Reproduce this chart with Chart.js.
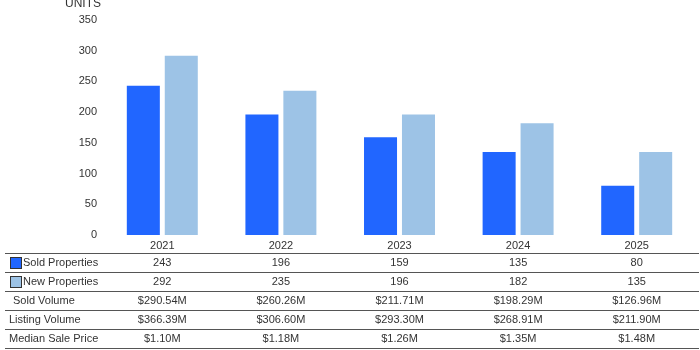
<!DOCTYPE html>
<html>
<head>
<meta charset="utf-8">
<script src="https://cdn.jsdelivr.net/npm/chart.js@4"></script>
<style>
html,body{margin:0;padding:0;background:#fff;}
#wrap{width:700px;height:350px;position:relative;}
</style>
</head>
<body>
<div id="wrap"><canvas id="c" width="700" height="350"></canvas></div>
<script>
const years = ["2021","2022","2023","2024","2025"];
const soldProperties = [243,196,159,135,80];
const newProperties = [292,235,196,182,135];
const soldVolume = ["$290.54M","$260.26M","$211.71M","$198.29M","$126.96M"];
const listingVolume = ["$366.39M","$306.60M","$293.30M","$268.91M","$211.90M"];
const medianSalePrice = ["$1.10M","$1.18M","$1.26M","$1.35M","$1.48M"];
const yTicks = [0,50,100,150,200,250,300,350];

const SOLD_COLOR = "#2166ff";
const NEW_COLOR = "#9dc3e6";
const TEXT = "#333333";
const FONT = "Liberation Sans, Arial, sans-serif";

const tableRows = [
  {label:"Sold Properties", values: soldProperties.map(String), swatch: SOLD_COLOR, lx: 23},
  {label:"New Properties", values: newProperties.map(String), swatch: NEW_COLOR, lx: 23},
  {label:"Sold Volume", values: soldVolume, lx: 13},
  {label:"Listing Volume", values: listingVolume, lx: 9},
  {label:"Median Sale Price", values: medianSalePrice, lx: 9}
];

const tablePlugin = {
  id: 'tablePlugin',
  afterDraw(chart) {
    const ctx = chart.ctx;
    const xs = chart.scales.x;
    ctx.save();
    // UNITS title
    ctx.font = "12px " + FONT;
    ctx.fillStyle = TEXT;
    ctx.textAlign = "right";
    ctx.textBaseline = "middle";
    ctx.fillText("UNITS", 101, 4);
    // table lines
    const top = 253, rowH = 19;
    ctx.strokeStyle = "#555555";
    ctx.lineWidth = 1;
    for (let i = 0; i <= tableRows.length; i++) {
      const y = Math.round(top + i * rowH) + 0.5;
      ctx.beginPath();
      ctx.moveTo(5, y);
      ctx.lineTo(699, y);
      ctx.stroke();
    }
    ctx.font = "11px " + FONT;
    tableRows.forEach((row, i) => {
      const cy = top + i * rowH + rowH / 2 + 0.5;
      if (row.swatch) {
        ctx.fillStyle = row.swatch;
        ctx.fillRect(11, cy - 5, 10, 10);
        ctx.strokeStyle = "#333333";
        ctx.strokeRect(10.5, cy - 5.5, 11, 11);
      }
      ctx.fillStyle = TEXT;
      ctx.textAlign = "left";
      ctx.fillText(row.label, row.lx, cy);
      ctx.textAlign = "center";
      row.values.forEach((v, j) => {
        ctx.fillText(v, xs.getPixelForValue(j), cy);
      });
    });
    ctx.restore();
  }
};

new Chart(document.getElementById('c'), {
  type: 'bar',
  data: {
    labels: years,
    datasets: [
      {label: "Sold Properties", data: soldProperties, backgroundColor: SOLD_COLOR, categoryPercentage: 0.64, barPercentage: 0.87},
      {label: "New Properties", data: newProperties, backgroundColor: NEW_COLOR, categoryPercentage: 0.64, barPercentage: 0.87}
    ]
  },
  options: {
    responsive: false,
    animation: false,
    devicePixelRatio: 1,
    layout: {padding: {top: 20, right: 4, left: 0, bottom: 0}},
    plugins: {legend: {display: false}, tooltip: {enabled: false}},
    scales: {
      x: {
        grid: {display: false, drawTicks: false},
        border: {display: false},
        ticks: {color: TEXT, font: {family: FONT, size: 11}, padding: 4, maxRotation: 0},
        afterFit(s) { s.height = 115; }
      },
      y: {
        min: 0, max: 350,
        grid: {display: false, drawTicks: false},
        border: {display: false},
        afterBuildTicks(s) { s.ticks = yTicks.map(v => ({value: v})); },
        ticks: {color: TEXT, font: {family: FONT, size: 11}, padding: 6},
        afterFit(s) { s.width = 103; }
      }
    }
  },
  plugins: [tablePlugin]
});
</script>
</body>
</html>
